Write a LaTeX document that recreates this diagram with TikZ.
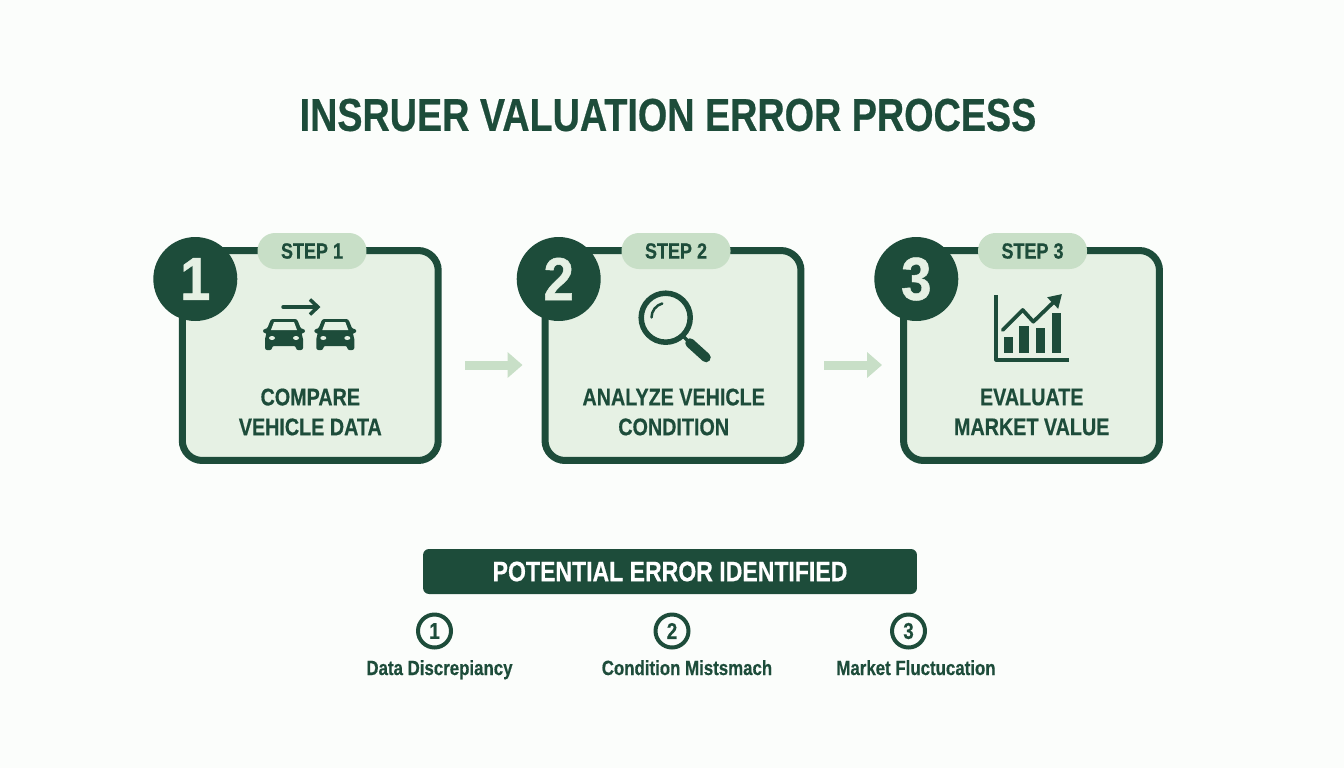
\documentclass[tikz,border=0pt]{standalone}
\usepackage{fontspec}
\setmainfont[FakeStretch=0.82,BoldFeatures={FakeBold=0.5}]{Liberation Sans}
\newfontfamily\digitfont[FakeStretch=0.9,BoldFeatures={FakeBold=0.8}]{Liberation Sans}
\usepackage{xcolor}
\usepackage{tikz}
\usetikzlibrary{arrows.meta,calc,positioning}

\definecolor{pagebg}{HTML}{FBFDFB}
\definecolor{darkgreen}{HTML}{1D4C3A}
\definecolor{cardgreen}{HTML}{E6F1E4}
\definecolor{palegreen}{HTML}{C8DFC7}

\begin{document}
\begin{tikzpicture}[x=0.02cm,y=-0.02cm]

\tikzset{
  card/.style={draw=darkgreen, fill=cardgreen, line width=0.14cm, rounded corners=0.4cm, minimum width=5.12cm, minimum height=4.2cm},
  steppill/.style={fill=palegreen, text=darkgreen, rounded corners=0.35cm, minimum width=2.18cm, minimum height=0.72cm, inner sep=0pt, font=\fontsize{12.5}{15}\selectfont\bfseries},
  badge/.style={circle, fill=darkgreen, text=cardgreen, minimum size=1.68cm, inner sep=0pt, font=\fontsize{34.5}{40}\selectfont\digitfont\bfseries},
  cardtext/.style={text=darkgreen, align=center, inner sep=0pt, font=\fontsize{13.7}{17}\selectfont\bfseries},
  flowarrow/.style={draw=palegreen, line width=0.18cm, -{Triangle[width=0.5cm,length=0.3cm]}},
  iconline/.style={draw=darkgreen, line cap=round, line join=round},
  smallnum/.style={circle, draw=darkgreen, line width=0.08cm, text=darkgreen, minimum size=0.66cm, inner sep=0pt, font=\fontsize{13}{15}\selectfont\bfseries},
  errortext/.style={text=darkgreen, inner sep=0pt, anchor=base, font=\fontsize{11.7}{14}\selectfont\bfseries},
  car/.pic={
    \fill[darkgreen, rounded corners=1.2pt] (-13,0) -- (13,0) -- (17,10) -- (21,10) -- (21,14) -- (17,14) -- (19,18) -- (19,31) -- (12,31) -- (12,27) -- (-12,27) -- (-12,31) -- (-19,31) -- (-19,18) -- (-17,14) -- (-21,14) -- (-21,10) -- (-17,10) -- cycle;
    \fill[cardgreen] (-10,3) -- (10,3) -- (13,11) -- (-13,11) -- cycle;
    \fill[cardgreen] (-12,19) ellipse (3 and 2);
    \fill[cardgreen] (12,19) ellipse (3 and 2);
  }
}

\useasboundingbox (0,0) rectangle (1344,768);
\fill[pagebg] (0,0) rectangle (1344,768);

\node[text=darkgreen, font=\fontsize{26.2}{30}\selectfont\bfseries] (title) at (668,115) {INSRUER VALUATION ERROR PROCESS};

% cards
\node[card] (cardone) at (310.25,355.5) {};
\node[card] (cardtwo) at (673,355.5) {};
\node[card] (cardthree) at (1031.5,355.5) {};

\node[steppill] (pillone) at (312,251) {STEP 1};
\node[steppill] (pilltwo) at (676,251) {STEP 2};
\node[steppill] (pillthree) at (1032.5,251) {STEP 3};

\node[badge] (badgeone) at (195.3,279) {1};
\node[badge] (badgetwo) at (558.7,279) {2};
\node[badge] (badgethree) at (916.3,279) {3};

\node[cardtext] (textone) at (310.3,412) {COMPARE\\VEHICLE DATA};
\node[cardtext] (texttwo) at (673.7,412) {ANALYZE VEHICLE\\CONDITION};
\node[cardtext] (textthree) at (1031.7,412) {EVALUATE\\MARKET VALUE};

\draw[flowarrow, shorten <=0.47cm, shorten >=0.38cm] ([yshift=-0.19cm]cardone.east) -- ([yshift=-0.19cm]cardtwo.west);
\draw[flowarrow, shorten <=0.40cm, shorten >=0.36cm] ([yshift=-0.19cm]cardtwo.east) -- ([yshift=-0.19cm]cardthree.west);

% icon 1
\draw[iconline, line width=0.07cm, -{Straight Barb[width=0.3cm,length=0.16cm]}] (283,307) -- (320.5,307);
\pic at (284,319) {car};
\pic at (335.3,319) {car};

% icon 2
\draw[iconline, line width=0.11cm] (665.7,317.7) circle (24.5);
\draw[iconline, line width=0.05cm] (651.5,317.5) arc[start angle=180, end angle=105, x radius=14.5, y radius=-14.5];
\draw[iconline, line width=0.07cm] (683,336) -- (690,343);
\draw[iconline, line width=0.19cm] (690,343) -- (706,357.5);

% icon 3
\draw[iconline, line width=0.065cm, line cap=butt] (996,295) -- (996,360) -- (1069,360);
\fill[darkgreen] (1003.7,336.7) rectangle (1013.3,353.3);
\fill[darkgreen] (1019.3,325.7) rectangle (1029,353.3);
\fill[darkgreen] (1035.7,327.7) rectangle (1045,353.3);
\fill[darkgreen] (1051.7,313.3) rectangle (1061,353.3);
\draw[iconline, line width=0.075cm, -{Triangle[width=0.3cm,length=0.26cm]}] (1002.7,330) -- (1022.7,310) -- (1033.3,321.7) -- (1062,294);

% error list
\node[fill=darkgreen, text=white, rounded corners=0.12cm, minimum width=9.88cm, minimum height=0.9cm, inner sep=0pt, font=\fontsize{16}{18}\selectfont\bfseries] (banner) at (670,571.5) {POTENTIAL ERROR IDENTIFIED};

\node[smallnum] (numone) at (434.5,631) {1};
\node[smallnum] (numtwo) at (672,631) {2};
\node[smallnum] (numthree) at (908.5,631) {3};

\node[errortext] (errone) at (439.5,675) {Data Discrepiancy};
\node[errortext] (errtwo) at (687,675) {Condition Mistsmach};
\node[errortext] (errthree) at (916,675) {Market Fluctucation};

\end{tikzpicture}
\end{document}
